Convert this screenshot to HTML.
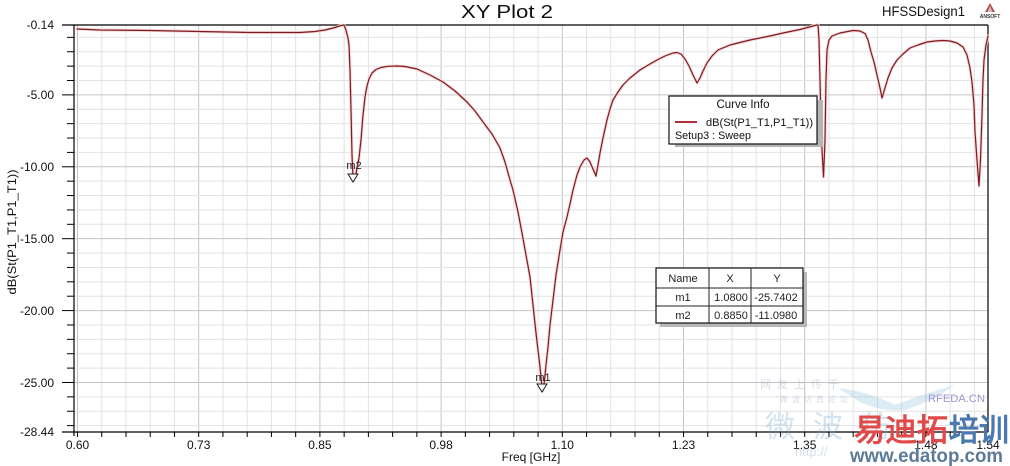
<!DOCTYPE html>
<html><head><meta charset="utf-8"><style>
html,body{margin:0;padding:0;background:#fff;}
svg{display:block;}
text{font-family:"Liberation Sans",Arial,sans-serif;}
</style></head><body>
<svg width="1010" height="466" viewBox="0 0 1010 466" xmlns="http://www.w3.org/2000/svg" xmlns:xlink="http://www.w3.org/1999/xlink">
<defs>
<polyline id="cv" points="77,29 100,30 150,30.5 200,31.5 250,32.5 300,32.5 315,31.5 325,30 335,27.5 341,25.5 344,25 346,30 348,38 349,45 350,70 351,110 351.5,132 352,155 353,178 354,180 355.5,176 357,168 359,158 361,140 363,115 365,97 367,86 369,79 372,73 376,69.5 381,67.5 388,66.3 397,66 405,66.5 417,69 430,75 443,82 455,91 467,102 475,111 483,122 492,134 500,148 505,162 510,180 513,190 518,212 522,233 526,255 530,277 533,305 536,333 538,350 540,367 541.5,382 542.5,391 544,385 546,365 548,347 550,325 553,300 556,275 560,250 563,232 567,217 570,204 573,190 577,175 580,167 584,160 587,158 590,162 593,169 596,176 598,165 600,153 603,138 607,120 610,109 613,100 618,92 623,85 630,78 640,70 650,64 657,60 665,56 673,53 677,52.5 681,54 685,59 689,66 693,75 697,83 700,78 703,71 707,63 712,56 718,50 730,45 750,40 770,36 783,33 800,29.5 813,26 817,25 818,25 819,40 820,80 821,120 822,150 823.5,177 825,140 826,80 827,50 829,40 832,36 840,33 853,30.5 860,31 865,33.5 868,40 871,52 874,62 877,75 880,88 882,98 885,88 888,78 892,68 897,60 903,54 910,48 918,45 927,42 935,41 943,40.5 950,41 957,43 963,47 967,55 970,68 972,82 974,105 975,132 977,160 979,186 980.5,160 982,115 983,80 984,60 986,45 988,36"/>
</defs>
<rect x="0" y="0" width="1010" height="466" fill="#fff"/>
<g id="grid"></g>
<script>
(function(){
var ns="http://www.w3.org/2000/svg";
var g=document.getElementById("grid");
function ln(x1,y1,x2,y2,c,w){var l=document.createElementNS(ns,"line");l.setAttribute("x1",x1);l.setAttribute("y1",y1);l.setAttribute("x2",x2);l.setAttribute("y2",y2);l.setAttribute("stroke",c);l.setAttribute("stroke-width",w);g.appendChild(l);}
for(var k=0;k<=37;k++){var x=77.5+k*24.24;var maj=(k%5==0);ln(x,25,x,432,maj?"#c4c4c4":"#e2e2e2",1);ln(x,432,x,437,"#000",1);}
for(var d=1;d<=28;d++){var y=25+(d-0.14)*14.38;var maj=(d%5==0);ln(74,y,988,y,maj?"#c4c4c4":"#e2e2e2",1);ln(maj?62:67,y,74,y,"#000",1);}
})();
</script>
<!-- frame -->
<line x1="62" y1="25" x2="988" y2="25" stroke="#000" stroke-width="1.2"/>
<line x1="62" y1="432" x2="988" y2="432" stroke="#000" stroke-width="1.2"/>
<line x1="74" y1="25" x2="74" y2="436" stroke="#000" stroke-width="1.2"/>
<line x1="988" y1="25" x2="988" y2="432" stroke="#000" stroke-width="1.2"/>

<!-- y tick labels -->
<g font-size="12" fill="#111" text-anchor="end">
<text x="54" y="29">-0.14</text>
<text x="54" y="99">-5.00</text>
<text x="54" y="171">-10.00</text>
<text x="54" y="243">-15.00</text>
<text x="54" y="315">-20.00</text>
<text x="54" y="387">-25.00</text>
<text x="54" y="436">-28.44</text>
</g>
<text transform="translate(16,232) rotate(-90)" font-size="12" fill="#111" text-anchor="middle" textLength="125" lengthAdjust="spacingAndGlyphs">dB(St(P1_T1,P1_T1))</text>

<!-- x tick labels -->
<g font-size="12" fill="#111" text-anchor="middle">
<text x="77.5" y="449">0.60</text>
<text x="198.7" y="449">0.73</text>
<text x="319.9" y="449">0.85</text>
<text x="441.1" y="449">0.98</text>
<text x="562.3" y="449">1.10</text>
<text x="683.5" y="449">1.23</text>
<text x="804.7" y="449">1.35</text>
<text x="925.9" y="449">1.48</text>
<text x="988" y="449">1.54</text>
<text x="531" y="461">Freq [GHz]</text>
</g>

<!-- titles -->
<text x="507" y="18" font-size="18" fill="#111" text-anchor="middle" textLength="92" lengthAdjust="spacingAndGlyphs">XY Plot 2</text>
<text x="882" y="16" font-size="14" fill="#111" textLength="83" lengthAdjust="spacingAndGlyphs">HFSSDesign1</text>
<g>
<polygon points="990,3 985,12 995,12" fill="#b05050"/>
<polygon points="990,6 987.5,12 992.5,12" fill="#fff" opacity="0.6"/>
<text x="990" y="18" font-size="5" fill="#333" text-anchor="middle" font-weight="bold">ANSOFT</text>
</g>

<!-- watermark faint -->
<g opacity="0.35">
<path d="M838,388 Q870,392 895,405 Q920,395 955,385 Q930,402 905,410 Q880,412 860,402 Z" fill="#9cc8e0"/>
<text x="760" y="388" font-size="11" fill="#8aa0c0" font-family="'Noto Sans CJK SC',sans-serif" letter-spacing="6">网友上传于</text>
<text x="780" y="402" font-size="8" fill="#8aa0c0" font-family="'Noto Sans CJK SC',sans-serif" letter-spacing="4">微波仿真论坛</text>
<text x="765" y="437" font-size="30" fill="#80b0d8" font-family="'Noto Serif CJK SC',serif" letter-spacing="18">微波仿</text>
<text x="795" y="456" font-size="13" fill="#90a8c8" font-family="'Liberation Mono',monospace">http://</text>
</g>
<text x="928" y="402" font-size="11" fill="#9a98d0" textLength="57" lengthAdjust="spacingAndGlyphs">RFEDA.CN</text>

<!-- curve -->
<g fill="none" stroke-linejoin="round" stroke-linecap="round">
<use href="#cv" xlink:href="#cv" stroke="#f8d4d4" stroke-width="3"/>
<use href="#cv" xlink:href="#cv" stroke="#7a1c22" stroke-width="1.2"/>
</g>

<!-- markers -->
<g fill="#fff" stroke="#222" stroke-width="1">
<polygon points="348,174 358,174 353,182"/>
<polygon points="537,384 547,384 542,392"/>
</g>
<g font-size="11" fill="#222" text-anchor="middle">
<text x="354" y="169">m2</text>
<text x="543" y="381">m1</text>
</g>

<!-- curve info -->
<rect x="675" y="100" width="148" height="47" fill="#b4b4b4"/>
<rect x="669" y="96" width="148" height="48" fill="#fff" stroke="#111" stroke-width="1.2"/>
<text x="743" y="108" font-size="11.5" fill="#111" text-anchor="middle">Curve Info</text>
<line x1="675" y1="122" x2="697" y2="122" stroke="#b03038" stroke-width="2"/>
<text x="706" y="126" font-size="11" fill="#111" textLength="107" lengthAdjust="spacingAndGlyphs">dB(St(P1_T1,P1_T1))</text>
<text x="675" y="139" font-size="11" fill="#111" textLength="76" lengthAdjust="spacingAndGlyphs">Setup3 : Sweep</text>

<!-- marker table -->
<rect x="660" y="272" width="147" height="55" fill="#b8b8b8"/>
<rect x="656" y="268" width="147" height="55" fill="#fff" stroke="#111" stroke-width="1.2"/>
<g stroke="#222" stroke-width="1">
<line x1="656" y1="288" x2="803" y2="288"/>
<line x1="656" y1="306" x2="803" y2="306"/>
<line x1="709" y1="268" x2="709" y2="323"/>
<line x1="751" y1="268" x2="751" y2="323"/>
</g>
<g font-size="11" fill="#222" text-anchor="middle">
<text x="683" y="282">Name</text>
<text x="730" y="282">X</text>
<text x="777" y="282">Y</text>
<text x="683" y="301">m1</text>
<text x="731" y="301">1.0800</text>
<text x="776" y="301">-25.7402</text>
<text x="683" y="319">m2</text>
<text x="731" y="319">0.8850</text>
<text x="776" y="319">-11.0980</text>
</g>

<!-- watermark strong -->
<g font-family="'Noto Sans CJK SC','WenQuanYi Zen Hei',sans-serif" font-weight="900" font-size="31">
<text x="854" y="441" fill="#e04a4a" textLength="94" lengthAdjust="spacingAndGlyphs">易迪拓</text>
<text x="949" y="441" fill="#4a78b0" textLength="60" lengthAdjust="spacingAndGlyphs">培训</text>
</g>
<text x="850" y="462" font-size="19" font-weight="bold" fill="#5d7b98" textLength="153" lengthAdjust="spacingAndGlyphs">www.edatop.com</text>
</svg>
</body></html>
